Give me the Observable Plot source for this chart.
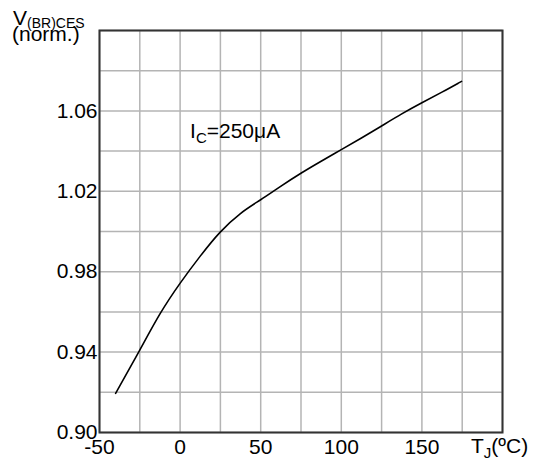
<!DOCTYPE html>
<html><head><meta charset="utf-8">
<script src="https://cdn.jsdelivr.net/npm/d3@7"></script>
<script src="https://cdn.jsdelivr.net/npm/@observablehq/plot@0.6"></script>
<style>body{margin:0;background:#fff}</style></head>
<body><div id="chart"></div>
<script>
// Data
const temps = [-40, -25, -12.2, 0, 12.6, 24.6, 37.5, 50, 62.3, 75, 87.5, 100, 112.5, 125, 137.5, 150, 162.5, 174.6];
const vbr = [0.9195, 0.9409, 0.9600, 0.9745, 0.9880, 1.0000, 1.0095, 1.0157, 1.0225, 1.0291, 1.0350, 1.0407, 1.0465, 1.0525, 1.0586, 1.0641, 1.0693, 1.0747];
const xTicks = [-50, 0, 50, 100, 150];
const yTicks = [0.90, 0.94, 0.98, 1.02, 1.06];
const xGrid = [-50, -25, 0, 25, 50, 75, 100, 125, 150, 175, 200];
const yGrid = [0.90, 0.92, 0.94, 0.96, 0.98, 1.00, 1.02, 1.04, 1.06, 1.08, 1.10];
const yLabelMain = "V", yLabelSub = "(BR)CES", yLabelUnit = "(norm.)";
const xLabelMain = "T", xLabelSub = "J", xLabelUnit = "(ºC)";
const noteMain = "I", noteSub = "C", noteRest = "=250μA";
const notePos = {t: 6.5, v: 1.0463};

const data = temps.map((t, i) => ({t, v: vbr[i]}));
const ff = "'Liberation Sans', Arial, sans-serif";

const plot = Plot.plot({
  width: 537, height: 463,
  marginLeft: 99, marginRight: 35, marginTop: 30, marginBottom: 31,
  style: {fontFamily: ff, fontSize: "21px", color: "#000", background: "#fff"},
  x: {domain: [-50, 200]},
  y: {domain: [0.90, 1.10]},
  marks: [
    Plot.gridX(xGrid, {stroke: "#b4b4b4", strokeOpacity: 1, strokeWidth: 1.5}),
    Plot.gridY(yGrid, {stroke: "#b4b4b4", strokeOpacity: 1, strokeWidth: 1.5}),
    Plot.axisX(xTicks, {tickSize: 0, tickPadding: 7, tickFormat: d => String(d), label: null}),
    Plot.axisY(yTicks, {tickSize: 0, tickPadding: 2, tickFormat: d => d.toFixed(2), label: null}),
    Plot.line(data, {x: "t", y: "v", stroke: "#000", strokeWidth: 1.6, curve: "basis"}),
    Plot.frame({stroke: "#333", strokeWidth: 2})
  ]
});
document.getElementById("chart").append(plot);

const sx = plot.scale("x"), sy = plot.scale("y");
const svg = d3.select(plot);

function subText(x, y, main, sub, rest, size, subSize, shift) {
  const t = svg.append("text").attr("x", x).attr("y", y)
    .attr("font-family", ff).attr("font-size", size).attr("fill", "#000")
    .attr("text-anchor", "start");
  t.append("tspan").text(main);
  t.append("tspan").attr("font-size", subSize).attr("dy", shift).text(sub);
  if (rest) t.append("tspan").attr("dy", -shift).text(rest);
  return t;
}
// y axis title
subText(13, 25, yLabelMain, yLabelSub, null, 21, 14, 3);
svg.append("text").attr("x", 12).attr("y", 41).attr("font-family", ff).attr("font-size", 21)
  .attr("text-anchor", "start").attr("fill", "#000").text(yLabelUnit);
// x axis title
subText(sx.apply(200) - 31, 453, xLabelMain, xLabelSub, xLabelUnit, 21, 15, 5);
// note
subText(sx.apply(notePos.t), sy.apply(notePos.v), noteMain, noteSub, noteRest, 21, 15, 5);
</script>
</body></html>
